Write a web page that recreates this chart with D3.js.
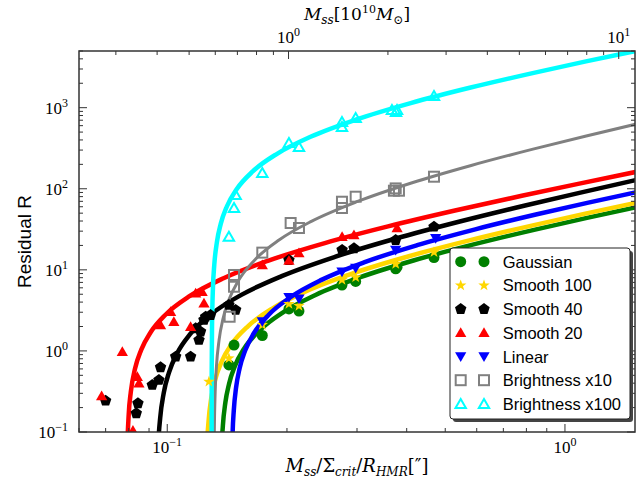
<!DOCTYPE html>
<html><head><meta charset="utf-8">
<script src="https://cdnjs.cloudflare.com/ajax/libs/d3/7.8.5/d3.min.js"></script>
<style>body{margin:0;background:#fff}svg{display:block}</style>
</head><body><svg id="c" width="637" height="478"></svg>
<script>
// ---------------- data ----------------
const seriesNames = ["Gaussian","Smooth 100","Smooth 40","Smooth 20","Linear","Brightness x10","Brightness x100"];
const yTickValues = [0.1,1,10,100,1000];
const xTickValues = [0.1,1];
const topTickValues = [1,10];

// measured points
const gaussX = [0.1429,0.1472,0.1734,0.2023,0.2144,0.275,0.2977,0.3753,0.3782,0.4685];
const gaussY = [0.671,1.18,1.55,3.3,3.1,6.5,7.2,10.3,10.8,14.2];
const s100X = [0.1273,0.1429,0.1734,0.2023,0.2144,0.275,0.2977,0.3753,0.4685];
const s100Y = [0.417,0.811,2.1,3.8,3.6,7.5,8.1,11.8,16.5];
const s40X = [0.070,0.0844,0.0836,0.0917,0.0953,0.0962,0.105,0.1145,0.1202,0.1213,0.1237,0.1179,0.1249,0.1285,0.1429,0.1486,0.2023,0.2752,0.2948,0.3753,0.4685];
const s40Y = [0.243,0.226,0.170,0.380,0.438,0.628,0.849,0.849,1.364,1.726,2.41,1.90,2.64,2.77,3.69,3.20,13.2,17.6,18.4,23.3,34.0];
const s20X = [0.0684,0.0771,0.0841,0.0849,0.082,0.0962,0.102,0.1039,0.1145,0.1179,0.1224,0.1237,0.1734,0.2023,0.2144,0.2752,0.2948,0.3784];
const s20Y = [0.278,0.978,0.481,0.399,0.104,2.09,3.05,2.29,1.99,5.14,5.38,3.87,11.5,13.0,16.1,25.6,26.9,32.8];
const linX = [0.1734,0.2023,0.2144,0.275,0.2977,0.3753,0.4731];
const linY = [2.3,4.6,4.4,9.5,10.5,17.57,24.5];
const b10X = [0.1435,0.1472,0.1472,0.1734,0.2043,0.2144,0.275,0.275,0.2977,0.3715,0.3825,0.3753,0.4685];
const b10Y = [2.64,6.19,8.64,16.3,37.8,32.8,69.2,57.9,79.8,94.6,94.6,101,140.8];
const b100X = [0.1429,0.1472,0.1486,0.1734,0.2023,0.2144,0.275,0.275,0.2977,0.3673,0.3782,0.376,0.4685];
const b100Y = [25.6,57.9,83.8,156,367,327,666,578,746,936,936,885,1393];

// fitted curves
const gaussFitX = [0.1362,0.1363,0.137,0.138,0.140,0.143,0.148,0.156,0.171,0.196,0.236,0.306,0.416,0.586,0.836,1.136,1.586];
const gaussFitY = [0.005,0.01966,0.0617,0.1193,0.2304,0.392,0.6538,1.063,1.808,3.017,4.903,8.118,13.04,20.46,31.14,43.7,62.2];
const s100FitX = [0.1252,0.1253,0.126,0.127,0.129,0.132,0.137,0.145,0.160,0.185,0.225,0.295,0.405,0.575,0.825,1.125,1.575];
const s100FitY = [0.005,0.0222,0.0696,0.1345,0.2599,0.4419,0.7377,1.199,2.039,3.403,5.531,9.156,14.71,23.08,35.13,49.3,70.2];
const s40FitX = [0.0942,0.0943,0.095,0.096,0.098,0.101,0.106,0.114,0.129,0.154,0.194,0.264,0.374,0.544,0.794,1.094,1.544];
const s40FitY = [0.005,0.0211,0.0729,0.1489,0.304,0.541,0.9423,1.595,2.839,4.944,8.373,14.46,24.17,39.41,62.14,89.7,131.5];
const s20FitX = [0.0792,0.0793,0.080,0.081,0.083,0.086,0.091,0.099,0.114,0.139,0.179,0.249,0.359,0.529,0.779,1.079,1.529];
const s20FitY = [0.01,0.0517,0.1625,0.3139,0.6064,1.031,1.721,2.797,4.758,7.94,12.9,21.36,34.3,53.85,81.93,115,163.7];
const linFitX = [0.1452,0.1453,0.146,0.147,0.149,0.152,0.157,0.165,0.180,0.205,0.245,0.315,0.425,0.595,0.845,1.145,1.595];
const linFitY = [0.005,0.0304,0.0954,0.1842,0.3558,0.6053,1.010,1.642,2.793,4.661,7.572,12.54,20.14,31.61,48.1,67.5,96.1];
const b10FitX = [0.1312,0.1313,0.132,0.133,0.135,0.138,0.143,0.151,0.166,0.191,0.231,0.301,0.411,0.581,0.831,1.131,1.581];
const b10FitY = [0.02,0.0895,0.3172,0.6568,1.359,2.446,4.308,7.367,13.26,23.35,39.93,69.7,117.8,193.8,308.1,448,662];
const b100FitX = [0.12930,0.12932,0.12938,0.1296,0.1303,0.1313,0.1333,0.1363,0.1413,0.1493,0.1643,0.1893,0.2293,0.2993,0.4093,0.5793,0.8293,1.1293,1.5793];
const b100FitY = [0.02,0.1588,0.576,1.969,6.036,11.5,21.91,36.86,60.84,97.9,164.7,271.8,437.1,716.1,1139,1771,2671,3721,5257];

const colors = ["#008000","#FFD700","#000000","#FF0000","#0000FF","#808080","#00FFFF"];
const markers = ["circle","star","pentagon","triUp","triDown","square","triUpOpen"];

// ---------------- layout ----------------
const L=79,R=635,T=51,B=432;
const svg=d3.select("#c");
const x=d3.scaleLog().domain([0.06,1.5]).range([L,R]);
const y=d3.scaleLog().domain([0.1,5000]).range([B,T]);
const xTop=d3.scaleLog().domain([0.232,11.2]).range([L,R]);

svg.append("defs").append("clipPath").attr("id","clip")
  .append("rect").attr("x",L).attr("y",T).attr("width",R-L).attr("height",B-T);

const series=[
 {fx:gaussFitX,fy:gaussFitY,px:gaussX,py:gaussY},
 {fx:s100FitX,fy:s100FitY,px:s100X,py:s100Y},
 {fx:s40FitX,fy:s40FitY,px:s40X,py:s40Y},
 {fx:s20FitX,fy:s20FitY,px:s20X,py:s20Y},
 {fx:linFitX,fy:linFitY,px:linX,py:linY},
 {fx:b10FitX,fy:b10FitY,px:b10X,py:b10Y},
 {fx:b100FitX,fy:b100FitY,px:b100X,py:b100Y}
];

function starPath(r){const p=[];for(let i=0;i<10;i++){const a=-Math.PI/2+i*Math.PI/5;const rr=i%2?r*0.4:r;p.push([rr*Math.cos(a),rr*Math.sin(a)]);}return "M"+p.map(q=>q.join(",")).join("L")+"Z";}
function polyPath(n,r,rot){const p=[];for(let i=0;i<n;i++){const a=rot+i*2*Math.PI/n;p.push([r*Math.cos(a),r*Math.sin(a)]);}return "M"+p.map(q=>q.map(v=>v.toFixed(2)).join(",")).join("L")+"Z";}
function drawMarker(g,type,color,cx,cy){
  if(type==="circle") g.append("circle").attr("cx",cx).attr("cy",cy).attr("r",5.5).attr("fill",color);
  else if(type==="star") g.append("path").attr("d",starPath(6)).attr("transform",`translate(${cx},${cy})`).attr("fill",color);
  else if(type==="pentagon") g.append("path").attr("d",polyPath(5,6,-Math.PI/2)).attr("transform",`translate(${cx},${cy})`).attr("fill",color);
  else if(type==="triUp") g.append("path").attr("d",polyPath(3,6.5,-Math.PI/2)).attr("transform",`translate(${cx},${cy+1})`).attr("fill",color);
  else if(type==="triDown") g.append("path").attr("d",polyPath(3,6.5,Math.PI/2)).attr("transform",`translate(${cx},${cy-1})`).attr("fill",color);
  else if(type==="square") g.append("rect").attr("x",cx-5).attr("y",cy-5).attr("width",10).attr("height",10).attr("fill","none").attr("stroke",color).attr("stroke-width",2);
  else if(type==="triUpOpen") g.append("path").attr("d",polyPath(3,6,-Math.PI/2)).attr("transform",`translate(${cx},${cy+1})`).attr("fill","none").attr("stroke",color).attr("stroke-width",2);
}

const plot=svg.append("g").attr("clip-path","url(#clip)");
const line=d3.line().x(d=>x(d[0])).y(d=>y(d[1])).curve(d3.curveMonotoneX);
series.forEach((s,i)=>{
  const pts=s.fx.map((v,k)=>[v,s.fy[k]]);
  plot.append("path").attr("d",line(pts)).attr("fill","none").attr("stroke",colors[i])
    .attr("stroke-width",i===5?3:4.5).attr("stroke-linejoin","round");
});
series.forEach((s,i)=>{
  s.px.forEach((v,k)=>drawMarker(plot,markers[i],colors[i],x(v),y(s.py[k])));
});

// ---------------- axes ----------------
const axisCol="#333";
const ax=svg.append("g");
function minorTicks(scale,lo,hi){const out=[];for(let e=-3;e<5;e++){for(let m=1;m<10;m++){const v=m*Math.pow(10,e);if(v>=lo*0.999&&v<=hi*1.001)out.push({v,major:m===1});}}return out;}
minorTicks(y,0.1,5000).forEach(t=>{
  const yy=y(t.v), len=t.major?8:4;
  ax.append("line").attr("x1",L).attr("x2",L+len).attr("y1",yy).attr("y2",yy).attr("stroke",axisCol).attr("stroke-width",1);
  ax.append("line").attr("x1",R).attr("x2",R-len).attr("y1",yy).attr("y2",yy).attr("stroke",axisCol).attr("stroke-width",1);
});
minorTicks(x,0.06,1.5).forEach(t=>{
  const xx=x(t.v), len=t.major?8:4;
  ax.append("line").attr("x1",xx).attr("x2",xx).attr("y1",B).attr("y2",B-len).attr("stroke",axisCol).attr("stroke-width",1);
});
minorTicks(xTop,0.232,11.2).forEach(t=>{
  const xx=xTop(t.v), len=t.major?8:4;
  ax.append("line").attr("x1",xx).attr("x2",xx).attr("y1",T).attr("y2",T+len).attr("stroke",axisCol).attr("stroke-width",1);
});
ax.append("rect").attr("x",L).attr("y",T).attr("width",R-L).attr("height",B-T).attr("fill","none").attr("stroke",axisCol).attr("stroke-width",1.5);

const tickFont="'Liberation Serif','DejaVu Serif',serif";
const serif="'DejaVu Serif','Liberation Serif',serif";
function powLabel(g,xx,yy,exp,anchor){
  const t=g.append("text").attr("x",xx).attr("y",yy).attr("text-anchor",anchor).attr("font-family",tickFont).attr("font-size",17).attr("fill","#000");
  t.append("tspan").text("10");
  t.append("tspan").attr("dy",-7).attr("font-size",12).text(exp<0?"\u2212"+(-exp):String(exp));
}
yTickValues.forEach(v=>powLabel(ax,68,y(v)+6,Math.round(Math.log10(v)),"end"));
xTickValues.forEach(v=>powLabel(ax,x(v),453,Math.round(Math.log10(v)),"middle"));
topTickValues.forEach(v=>powLabel(ax,xTop(v),43,Math.round(Math.log10(v)),"middle"));

// axis titles
const sans="'Liberation Sans',Arial,sans-serif";
svg.append("text").attr("transform",`translate(31,${(T+B)/2}) rotate(-90)`).attr("text-anchor","middle")
  .attr("font-family",sans).attr("font-size",19).text("Residual R");
const xl=svg.append("text").attr("x",(L+R)/2).attr("y",472).attr("text-anchor","middle").attr("font-family",serif).attr("font-size",18).attr("font-style","italic");
xl.append("tspan").text("M");
xl.append("tspan").attr("font-size",12).attr("dy",4).text("ss");
xl.append("tspan").attr("dy",-4).attr("font-style","normal").text("/\u03A3");
xl.append("tspan").attr("font-size",12).attr("dy",4).text("crit");
xl.append("tspan").attr("dy",-4).attr("font-style","normal").text("/");
xl.append("tspan").text("R");
xl.append("tspan").attr("font-size",12).attr("dy",4).text("HMR");
xl.append("tspan").attr("dy",-4).attr("font-style","normal").text("[\u2033]");
const tl=svg.append("text").attr("x",(L+R)/2).attr("y",20).attr("text-anchor","middle").attr("font-family",serif).attr("font-size",17).attr("font-style","italic");
tl.append("tspan").text("M");
tl.append("tspan").attr("font-size",12).attr("dy",4).text("ss");
tl.append("tspan").attr("dy",-4).attr("font-style","normal").text("[10");
tl.append("tspan").attr("font-size",11).attr("dy",-7).attr("font-style","normal").text("10");
tl.append("tspan").attr("dy",7).text("M");
tl.append("tspan").attr("font-size",12).attr("dy",4).attr("font-style","normal").text("\u2299");
tl.append("tspan").attr("dy",-4).attr("font-style","normal").text("]");

// ---------------- legend ----------------
const lg=svg.append("g");
const lx=450,ly=248,lw=180,lh=171;
lg.append("rect").attr("x",lx+3).attr("y",ly+3).attr("width",lw).attr("height",lh).attr("rx",3).attr("fill","#444");
lg.append("rect").attr("x",lx).attr("y",ly).attr("width",lw).attr("height",lh).attr("rx",3).attr("fill","#fff").attr("stroke","#222").attr("stroke-width",1);
seriesNames.forEach((n,i)=>{
  const cy=ly+13.7+i*23.7;
  drawMarker(lg,markers[i],colors[i],lx+10.7,cy);
  drawMarker(lg,markers[i],colors[i],lx+34,cy);
  lg.append("text").attr("x",lx+52.7).attr("y",cy+6).attr("font-family",sans).attr("font-size",16.5).text(n);
});
</script></body></html>
